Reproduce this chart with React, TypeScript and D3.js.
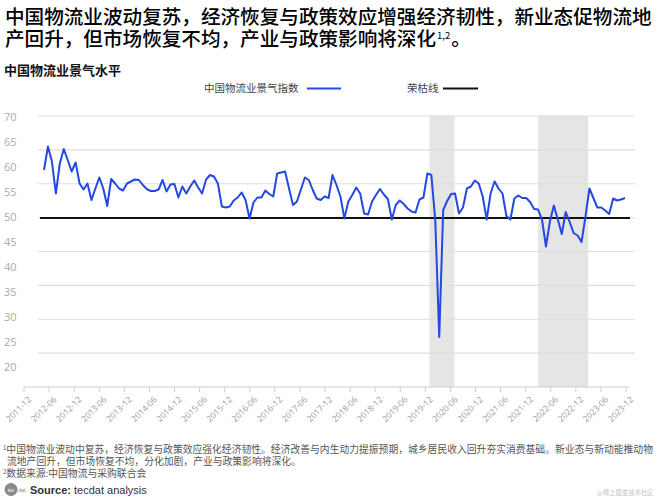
import React from "react";
import * as d3 from "d3";

const titleLine1 = "中国物流业波动复苏，经济恢复与政策效应增强经济韧性，新业态促物流地";
const titleLine2 = "产回升，但市场恢复不均，产业与政策影响将深化";
const subtitle = "中国物流业景气水平";
const seriesName = "中国物流业景气指数";
const refName = "荣枯线";
const refValue = 50;

const lpiValues = [
  59.6, 64.3, 61.3, 54.9, 60.9, 63.8, 61.6, 59.3, 61.1, 56.9,
  55.7, 56.9, 53.6, 55.9, 58.1, 55.9, 52.4, 57.8, 56.9, 55.9,
  55.5, 56.9, 57.3, 57.7, 57.6, 56.6, 55.8, 55.4, 55.4, 55.7,
  57.6, 55.3, 56.7, 56.8, 54.1, 56.3, 54.9, 56.3, 57.5, 56.1,
  54.9, 57.7, 58.6, 58.3, 56.9, 52.3, 52.1, 52.3, 53.5, 54.1,
  55.1, 53.6, 49.9, 53.1, 54.1, 54.1, 55.5, 54.8, 54.3, 58.9,
  59.1, 59.3, 55.9, 52.6, 53.3, 55.7, 58.1, 57.6, 55.6, 53.9,
  53.6, 54.3, 54.0, 58.6, 56.6, 54.3, 49.9, 53.3, 54.6, 56.1,
  54.9, 50.9, 50.7, 53.3, 54.6, 55.8, 54.7, 53.8, 49.7, 52.6,
  53.5, 52.8, 51.9, 51.3, 51.1, 53.7, 54.1, 58.9, 58.6, 49.5,
  26.2, 51.6, 53.4, 54.8, 54.9, 50.9, 52.1, 55.9, 56.3, 57.5,
  56.9, 54.3, 49.7, 54.9, 57.3, 55.9, 54.9, 50.4, 49.7, 53.9,
  54.5, 54.0, 54.0, 53.2, 51.8, 51.7, 49.7, 44.3, 49.3, 52.5,
  49.7, 46.8, 51.2, 49.2, 47.0, 46.5, 45.2, 50.3, 55.9, 54.0,
  52.1, 52.1, 51.5, 50.8, 53.9, 53.5, 53.7, 54.0,
];

const tickLabels = [
  "2011-12", "2012-06", "2012-12", "2013-06", "2013-12", "2014-06", "2014-12",
  "2015-06", "2015-12", "2016-06", "2016-12", "2017-06", "2017-12", "2018-06",
  "2018-12", "2019-06", "2019-12", "2020-06", "2020-12", "2021-06", "2021-12",
  "2022-06", "2022-12", "2023-06", "2023-12",
];

const yTickValues = [70, 65, 60, 55, 50, 45, 40, 35, 30, 25, 20];
const gridValues = [10, 20, 30, 40, 50, 60, 70, 80];

const shadedStarts = ["2020-01", "2022-03"];
const shadedEnds = ["2020-07", "2023-03"];

const footnote1a =
  "中国物流业波动中复苏，经济恢复与政策效应强化经济韧性。经济改善与内生动力提振预期，城乡居民收入回升夯实消费基础。新业态与新动能推动物";
const footnote1b = "流地产回升，但市场恢复不均，分化加剧，产业与政策影响将深化。";
const footnote2 = "数据来源:中国物流与采购联合会";

const CJK = "'Noto Sans CJK SC', 'Noto Sans', sans-serif";
const LATIN = "'Liberation Sans', Arial, sans-serif";

export default function App() {
  const W = 659;
  const H = 500;
  const plotTop = 116;
  const plotBottom = 387;

  const parse = d3.timeParse("%Y-%m");
  const xTime = d3
    .scaleTime()
    .domain([parse(tickLabels[0])!, parse(tickLabels[tickLabels.length - 1])!])
    .range([24, 626]);
  const xTick = d3.scalePoint<string>().domain(tickLabels).range([24, 626]);
  const xIdx = d3
    .scaleLinear()
    .domain([0, lpiValues.length - 1])
    .range([44, 625]);
  const y = d3.scaleLinear().domain([20, 70]).range([368, 118]);
  const yGrid = d3.scaleLinear().domain([0, 80]).range([plotBottom, plotTop]);

  const line = d3
    .line<number>()
    .x((_, i) => xIdx(i))
    .y((d) => y(d));

  const blue = "#2448e0";

  return (
    <div style={{ position: "absolute", left: 0, top: 0 }}>
      <svg width={W} height={H} style={{ display: "block", background: "#fff" }}>
        {/* Title */}
        <text x={5} y={24} fontFamily={CJK} fontSize={19.6} fontWeight={500} fill="#000">
          {titleLine1}
        </text>
        <text x={5} y={46} fontFamily={CJK} fontSize={19.6} fontWeight={500} fill="#000">
          {titleLine2}
          <tspan fontSize={9.5} dx={1} dy={-7} fontWeight={400}>1,2</tspan>
          <tspan dx={1} dy={7}>。</tspan>
        </text>
        <text x={4} y={75} fontFamily={CJK} fontSize={13} fontWeight={700} fill="#111">
          {subtitle}
        </text>

        {/* Legend */}
        <text x={204} y={92} fontFamily={CJK} fontSize={10.5} fill="#444">
          {seriesName}
        </text>
        <line x1={307} x2={341} y1={88.5} y2={88.5} stroke={blue} strokeWidth={2.2} />
        <text x={407} y={92} fontFamily={CJK} fontSize={10.5} fill="#444">
          {refName}
        </text>
        <line x1={443} x2={478} y1={88.5} y2={88.5} stroke="#111" strokeWidth={2.2} />

        {/* Shaded periods */}
        {shadedStarts.map((s, i) => {
          const x0 = xTime(parse(s)!);
          const x1 = xTime(parse(shadedEnds[i])!);
          return (
            <rect
              key={s}
              x={x0}
              y={plotTop}
              width={x1 - x0}
              height={plotBottom - plotTop}
              fill="#e5e5e5"
            />
          );
        })}

        {/* Gridlines */}
        {gridValues.map((g) => (
          <line
            key={g}
            x1={38}
            x2={635}
            y1={yGrid(g)}
            y2={yGrid(g)}
            stroke="#dedede"
            strokeWidth={1.2}
          />
        ))}

        {/* Y labels */}
        {yTickValues.map((v) => (
          <text
            key={v}
            x={4}
            y={y(v)}
            dominantBaseline="middle"
            fontFamily={"'Open Sans', sans-serif"}
            fontSize={11}
            fill="#aaa"
          >
            {v}
          </text>
        ))}

        {/* X axis */}
        <line x1={24} x2={630} y1={plotBottom} y2={plotBottom} stroke="#ccc" strokeWidth={1} />
        {tickLabels.map((t) => {
          const x = xTick(t)!;
          return (
            <g key={t}>
              <line x1={x} x2={x} y1={plotBottom} y2={plotBottom + 5} stroke="#ccc" />
              <text
                transform={`translate(${x + 8},${plotBottom + 13}) rotate(-45)`}
                textAnchor="end"
                fontFamily={"'Open Sans', sans-serif"}
                fontSize={8.5}
                fill="#999"
              >
                {t}
              </text>
            </g>
          );
        })}

        {/* Reference line */}
        <line
          x1={40}
          x2={630}
          y1={y(refValue)}
          y2={y(refValue)}
          stroke="#111"
          strokeWidth={2}
        />

        {/* Series */}
        <path
          d={line(lpiValues) || ""}
          fill="none"
          stroke={blue}
          strokeWidth={2}
          strokeLinejoin="round"
        />

        {/* Footnotes */}
        <text x={3} y={453} fontFamily={CJK} fontSize={9.8} fill="#555">
          <tspan fontSize={6} dy={-3}>1</tspan>
          <tspan dy={3}>{footnote1a}</tspan>
        </text>
        <text x={7} y={464.5} fontFamily={CJK} fontSize={9.8} fill="#555">
          {footnote1b}
        </text>
        <text x={3} y={477} fontFamily={CJK} fontSize={9.8} fill="#555">
          <tspan fontSize={6} dy={-3}>2</tspan>
          <tspan dy={3}>{footnote2}</tspan>
        </text>

        {/* Source */}
        <circle cx={11} cy={489.5} r={6.5} fill="#8a8a8a" />
        <text x={11} y={491.5} textAnchor="middle" fontFamily={LATIN} fontSize={5} fill="#fff">
          tec
        </text>
        <text x={18} y={491.5} fontFamily={LATIN} fontSize={5.5} fill="#888">
          dat
        </text>
        <text x={30} y={494} fontFamily={LATIN} fontSize={11} fill="#333">
          <tspan fontWeight={700}>Source:</tspan>
          <tspan> tecdat analysis</tspan>
        </text>

        {/* Watermark */}
        <text x={597} y={495} fontFamily={CJK} fontSize={6.3} fill="#c4c4c4">
          @稀土掘金技术社区
        </text>
      </svg>
    </div>
  );
}
